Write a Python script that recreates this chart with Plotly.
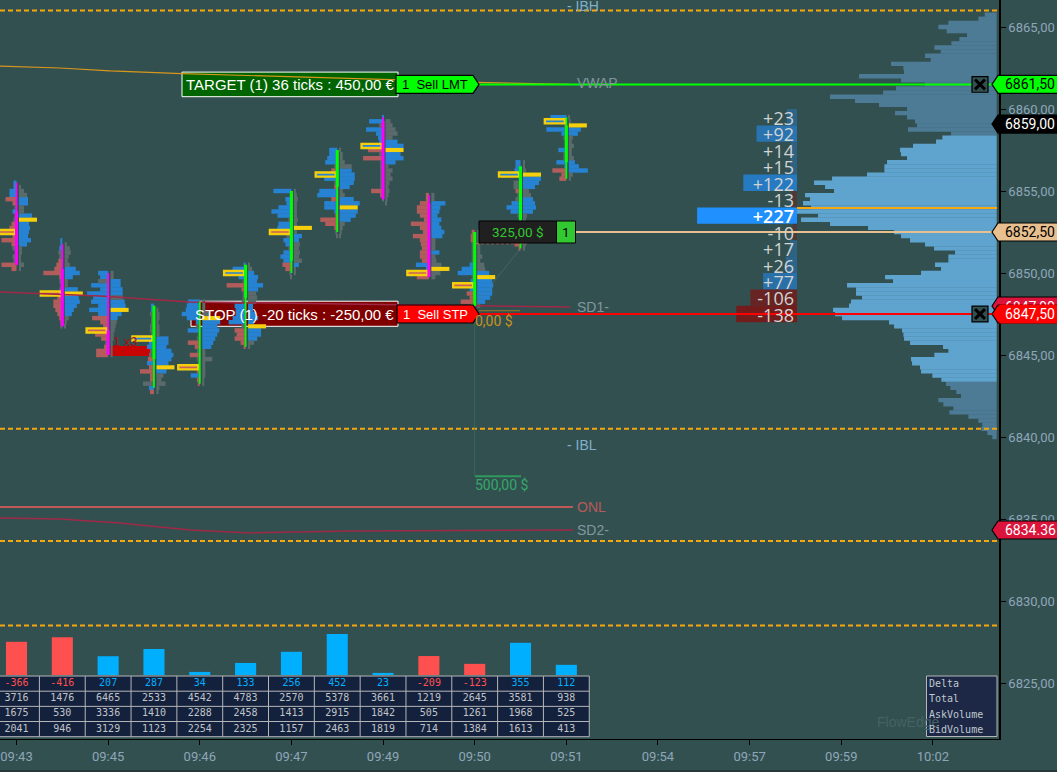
import plotly.graph_objects as go

# bar times on the x axis (every second bar is labelled)
tick_bars = [0, 2, 4, 6, 8, 10, 12, 14, 16, 18, 20]
tick_times = ["09:43", "09:45", "09:46", "09:47", "09:49", "09:50", "09:51", "09:54", "09:57", "09:59", "10:02"]
price_ticks = [6825, 6830, 6835, 6840, 6845, 6850, 6855, 6860, 6865]

# footer table
delta = [-366, -416, 207, 287, 34, 133, 256, 452, 23, -209, -123, 355, 112]
total = [3716, 1476, 6465, 2533, 4542, 4783, 2570, 5378, 3661, 1219, 2645, 3581, 938]
ask_volume = [1675, 530, 3336, 1410, 2288, 2458, 1413, 2915, 1842, 505, 1261, 1968, 525]
bid_volume = [2041, 946, 3129, 1123, 2254, 2325, 1157, 2463, 1819, 714, 1384, 1613, 413]

# candles
high = [6855.5, 6851.75, 6850, 6848, 6848.25, 6850.5, 6855, 6857.5, 6859.5, 6854.75, 6852.5, 6856.5, 6859.5]
low = [6850.5, 6846.75, 6845, 6843, 6843.25, 6845.5, 6850, 6852.5, 6854.5, 6849.75, 6848, 6851.5, 6855.75]
body_top = [6853.75, 6850.25, 6846.5, 6848, 6848.25, 6850.5, 6855, 6857.5, 6859.25, 6854.25, 6852.5, 6856.5, 6859]
body_bottom = [6850.5, 6846.75, 6845, 6844.75, 6848.25, 6848.5, 6850.75, 6855.25, 6854.5, 6849.75, 6848, 6853.25, 6856.75]
candle_up = [0, 0, 0, 1, 1, 1, 1, 1, 0, 0, 1, 1, 1]

# per bar footprint, rows run down from profile_top in quarter points
profile_top = [6855.5, 6852, 6850, 6848, 6848.25, 6850.5, 6855, 6857.5, 6859.5, 6854.75, 6852.5, 6856.75, 6859.5]
profile_left = [
    [3,3,7,7,11,4,2,4,2,3,5,7,16,4,15,5,4,2,4,3,15,5],
    [2,2,3,4,3,4,6,8,19,3,3,2,3,3,5,9,9,7,5,3,2,2],
    [10,8,10,17,8,21,15,17,10,19,10,16,8,5,3,13,7,3,4,12,12],
    [3,3,4,3,3,4,4,3,2,5,7,4,5,6,7,5,14,4,4,11,5,4],
    [12,13,14,18,13,4,4,12,2,3,12,5,3,10,3,2,3,3,9,3,2],
    [2,13,4,7,3,19,4,3,3,4,11,10,10,13,17,4,11,9,11,5,2],
    [18,2,6,5,13,20,14,3,13,14,3,5,8,6,3,8,11,8,9,6,2,1],
    [8,8,10,12,3,6,3,13,3,3,18,20,6,13,13,3,2,17,12,3,2,1],
    [1,14,4,17,7,5,4,4,15,4,20,3,3,3,3,3,3,3,12,3,1,0],
    [3,3,9,12,12,9,5,18,9,6,16,9,8,7,9,9,7,13,3,3,12],
    [3,4,4,3,3,3,3,3,5,13,17,3,4,3,5,8,5,14,4],
    [5,5,6,3,2,7,7,5,3,5,9,14,10,3,2,3,2,3,3,3,6,2],
    [16,3,2,20,5,3,2,2,8,3,3,10,2,14,5,7],
]
profile_left_color = [
    "bbbbrrgbggrrrrrrggggrr",
    "bbbgg" + "rrrrrggg" + "grrrrrrrgg",
    "bbgbbbbbbbbrrrrrrgrrr",
    "bbggggggbbbggrbrrrrgbrr"[:22],
    "bbbbbbgbggrrgrggrrbrr",
    "bbbbgrrgggbbbbbgrrrrr",
    "bgbbbbbgbbrgbbgbbbrrgg",
    "bbbbgrbbgrbbrbbbrrrrgg",
    "bbgbbbbbrgrgggggggrrgg",
    "rrrrrrrrrrrrrrrrrbbgr",
    "rrrgggggbbbgbrbrrrr",
    "bbbbbgg" + "rggbbbgggggggrrr"[:15],
    "bgrbbggg" + "bggbbrrr",
]
profile_right = [
    [0,2,5,8,9,9,5,5,13,0,10,11,10,9,12,8,3,3,2,2,5,2],
    [0,2,5,6,4,3,5,11,15,8,3,3,13,0,14,15,12,9,7,4,2,1],
    [3,3,10,10,12,12,12,14,15,0,11,7,6,5,4,3,3,2,2,2,2],
    [0,2,3,3,2,3,3,3,12,12,10,15,17,15,12,0,10,7,5,9,3,2],
    [3,3,3,8,0,18,15,17,15,13,11,9,3,3,10,3,3,3,3,2,2],
    [1,4,6,10,9,15,10,8,9,8,5,5,7,10,6,0,13,13,9,6,2],
    [2,3,4,3,3,3,3,4,3,0,3,8,5,6,5,6,5,8,5,2,2,0],
    [1,3,3,5,12,12,15,15,14,10,3,5,14,20,0,18,16,11,5,3,2,1],
    [0,5,7,10,12,7,12,18,0,15,18,10,3,7,5,7,4,3,4,3,2,1],
    [3,3,14,9,8,6,10,8,10,13,11,4,4,4,8,4,5,10,0,9,4],
    [3,3,3,3,3,3,5,3,7,8,12,0,15,16,15,15,13,8,3],
    [2,2,3,0,18,16,12,6,8,10,12,13,10,4,3,3,2,3,4,5,3,2],
    [1,2,0,12,9,4,3,5,3,3,5,6,10,19,4,2],
]
profile_right_color = [
    "ggggbbggbbbbbbbbgggggg",
    "gggggggbbbggbgbbbbbggg",
    "ggbbbbgbbbbbggggggggg",
    "ggggggggbbbbbbbbbgggggg"[:22],
    "ggggbbbbbbbbggggggggg",
    "ggbbbbbgggbbbbbgbbbgg",
    "gggggggggbgbbgggggbggg",
    "gggggbbbbbggbbbbbbgggg"[:22],
    "ggggggbbbbbbggggggggggg"[:22],
    "ggbbbbbbbbbgggbgggbgg"[:21],
    "ggggggggggbbbbbbbbg",
    "gggbbbbggbbbbggggggggg",
    "gggbbggggggbbbgg",
]

# largest rows of each bar
poc_right = [6853.25, 6848.75, 6847.75, 6844.25, 6847.25, 6846.75, 6852.75, 6854, 6857.5, 6850.25, 6849.75, 6856, 6859]
poc_left = [6852.5, 6848.75, 6846.5, 6846, 6844.25, 6850, 6852.5, 6856, 6857.75, 6850, 6849.25, 6856, 6859.25]
poc_left_up = [0, 0, 0, 1, 0, 1, 0, 1, 1, 0, 0, 1, 1]

# session profile, from 6865.75 down in quarter points
session_top = 6865.75
session_volume = [
    36,55,145,175,150,89,112,136,187,168,215,198,317,280,278,413,287,215,302,341,
    500,425,353,269,305,269,245,239,266,137,163,182,251,290,287,269,329,337,337,389,
    494,548,515,488,575,560,581,557,599,536,587,500,386,
    308,287,260,215,188,125,145,145,185,167,227,335,311,449,422,422,404,437,443,491,
    485,464,323,308,284,280,278,260,161,145,187,257,254,230,227,193,166,152,139,121,
    107,175,160,130,142,85,55,43,46,28,13,
]
value_area_high = 6858.25
value_area_low = 6843.5

# delta ladder
ladder_price = [6859.5 - i for i in range(13)]
ladder_delta = [23, 92, 14, 15, 122, -13, 227, -10, 17, 26, 77, -106, -138]

# levels
dashed_levels = [6866, 6840.5, 6833.66, 6828.5]
vwap_bar = [-0.36, 0.95, 2.04, 3.61, 8.37, 10.07, 12.08]
vwap_price = [6862.62, 6862.5, 6862.32, 6862.16, 6861.77, 6861.62, 6861.5]
sd1_bar = [-0.36, 1.82, 3.79, 10.07, 12.08]
sd1_price = [6848.84, 6848.6, 6848.23, 6847.99, 6847.93]
sd2_bar = [-0.36, 0.95, 2.26, 3.79, 5.1, 7.28, 12.15]
sd2_price = [6835.06, 6835, 6834.76, 6834.33, 6834.15, 6834.27, 6834.33]
onl_price = 6835.73

BG = "#335050"
BAR_PX = 45.82
FIRST_PX = 16.5
PLOT_W = 999
PLOT_H = 739
BLUE = "#2683d4"
RED = "#b25c5c"
GREY = "#5b6a6b"
YELLOW = "#f6cf0c"
MONO = "DejaVu Sans Mono"
SANS = "Liberation Sans"
ROW_H = 0.27   # a bit over one tick so no seams show between rows


def bx(px):
    return (px - FIRST_PX) / BAR_PX


def py(px):
    return 6865 - (px - 27) / 16.4


fig = go.Figure()

# session volume profile
rows = [session_top - 0.25 * i for i in range(len(session_volume))]
edge = bx(996.7)
for inside, colr in [(False, "#4d7b96"), (True, "#5fa3cf")]:
    ys = [p for p in rows if (value_area_low <= p <= value_area_high) == inside]
    xs = [-v / 3 / BAR_PX for p, v in zip(rows, session_volume) if (value_area_low <= p <= value_area_high) == inside]
    fig.add_trace(go.Bar(x=xs, y=ys, base=edge, orientation="h", width=ROW_H, marker=dict(color=colr, line_width=0), hoverinfo="skip"))

# delta ladder
ladder_right = bx(797)
ladder_colors = []
for v in ladder_delta:
    if v > 0:
        ladder_colors.append("rgba(32,144,255,%.2f)" % (0.25 + 0.75 * v / 227))
    else:
        ladder_colors.append("rgba(130,15,15,%.2f)" % (0.3 + 0.5 * -v / 138))
fig.add_trace(go.Bar(x=[-abs(v) * 0.44 / BAR_PX for v in ladder_delta], y=ladder_price, base=ladder_right, orientation="h",
                     width=1, marker=dict(color=ladder_colors, line_width=0), hoverinfo="skip"))

# levels
for lvl in dashed_levels:
    fig.add_trace(go.Scatter(x=[bx(0), bx(997)], y=[lvl, lvl], mode="lines", line=dict(color="#f5a70f", width=2, dash="5px,3px"), hoverinfo="skip"))
fig.add_trace(go.Scatter(x=vwap_bar, y=vwap_price, mode="lines", line=dict(color="#d8961c", width=1.2), hoverinfo="skip"))
fig.add_trace(go.Scatter(x=sd1_bar, y=sd1_price, mode="lines", line=dict(color="#a02848", width=1.5), hoverinfo="skip"))
fig.add_trace(go.Scatter(x=sd2_bar, y=sd2_price, mode="lines", line=dict(color="#a02848", width=1.5), hoverinfo="skip"))
fig.add_trace(go.Scatter(x=[bx(0), bx(573)], y=[onl_price, onl_price], mode="lines", line=dict(color="#c05858", width=2), hoverinfo="skip"))
fig.add_trace(go.Scatter(x=[bx(797), bx(997)], y=[6853.96, 6853.96], mode="lines", line=dict(color="#f5a70f", width=2), hoverinfo="skip"))
fig.add_trace(go.Scatter(x=[bx(556), bx(997)], y=[6852.5, 6852.5], mode="lines", line=dict(color="#e8bf8e", width=2), hoverinfo="skip"))
fig.add_trace(go.Scatter(x=[bx(478), bx(997)], y=[6861.5, 6861.5], mode="lines", line=dict(color="#00ff00", width=2), hoverinfo="skip"))
fig.add_trace(go.Scatter(x=[bx(478), bx(997)], y=[6847.5, 6847.5], mode="lines", line=dict(color="#ff0000", width=2), hoverinfo="skip"))

# open trade lines
fig.add_trace(go.Scatter(x=[10, 10], y=[6852, 6837.6], mode="lines", line=dict(color="rgba(50,125,90,0.6)", width=1), hoverinfo="skip"))
fig.add_trace(go.Scatter(x=[11, 10], y=[6851.5, 6848], mode="lines", line=dict(color="rgba(90,125,125,0.45)", width=1), hoverinfo="skip"))
fig.add_trace(go.Scatter(x=[bx(476), bx(527)], y=[6851.8, 6851.8], mode="lines", line=dict(color="#b25c5c", width=1.5, dash="3px,2px"), hoverinfo="skip"))
fig.add_trace(go.Scatter(x=[bx(479), bx(520)], y=[6847.7, 6847.7], mode="lines", line=dict(color="#9a7a20", width=1), hoverinfo="skip"))
fig.add_trace(go.Scatter(x=[bx(475), bx(521)], y=[6837.6, 6837.6], mode="lines", line=dict(color="#2e9a5c", width=2), hoverinfo="skip"))

# footprint bars
sides = {"b": BLUE, "r": RED, "g": GREY}
for key, colr in sides.items():
    lx, ly, lb, rx, ry, rb = [], [], [], [], [], []
    for i in range(13):
        for j, (v, c) in enumerate(zip(profile_left[i], profile_left_color[i])):
            if c == key and v:
                lx.append(-v / BAR_PX)
                ly.append(profile_top[i] - 0.25 * j)
                lb.append(i)
        for j, (v, c) in enumerate(zip(profile_right[i], profile_right_color[i])):
            if c == key and v:
                rx.append(v / BAR_PX)
                ry.append(profile_top[i] - 0.25 * j)
                rb.append(i + 2.5 / BAR_PX)
    fig.add_trace(go.Bar(x=lx, y=ly, base=lb, orientation="h", width=ROW_H, marker=dict(color=colr, line_width=0), hoverinfo="skip"))
    fig.add_trace(go.Bar(x=rx, y=ry, base=rb, orientation="h", width=ROW_H, marker=dict(color=colr, line_width=0), hoverinfo="skip"))

# poc markers
fig.add_trace(go.Bar(x=[18 / BAR_PX] * 13, y=poc_right, base=[i + 2.5 / BAR_PX for i in range(13)], orientation="h", width=0.25,
                     marker=dict(color=YELLOW, line_width=0), hoverinfo="skip"))
fig.add_trace(go.Bar(x=[-20 / BAR_PX] * 13, y=poc_left, base=[i - 1.5 / BAR_PX for i in range(13)], orientation="h", width=0.25,
                     marker=dict(color=[BLUE if u else "#c8605a" for u in poc_left_up], line=dict(color=YELLOW, width=2.4)), hoverinfo="skip"))

# candles
for up, colr in [(0, "#ff00ff"), (1, "#00ff00")]:
    wx, wy, bxs, bys = [], [], [], []
    for i in range(13):
        if candle_up[i] != up:
            continue
        wx += [i, i, None]
        wy += [high[i], low[i], None]
        bxs += [i, i, None]
        bys += [body_top[i], body_bottom[i], None]
    fig.add_trace(go.Scatter(x=wx, y=wy, mode="lines", line=dict(color=colr, width=1.8), hoverinfo="skip"))
    fig.add_trace(go.Scatter(x=bxs, y=bys, mode="lines", line=dict(color=colr, width=3), hoverinfo="skip"))

# delta bars on their own hidden axis
fig.add_trace(go.Bar(x=list(range(13)), y=[abs(v) for v in delta], width=0.46, yaxis="y2",
                     marker=dict(color=["#00b0ff" if v > 0 else "#ff5050" for v in delta], line_width=0), hoverinfo="skip"))

# table on a third hidden axis, rows sit on integers
grid_x, grid_y = [], []
for r in range(5):
    grid_x += [-0.6, 12.5, None]
    grid_y += [r - 0.5, r - 0.5, None]
for c in range(14):
    grid_x += [c - 0.5, c - 0.5, None]
    grid_y += [-0.5, 3.5, None]
fig.add_trace(go.Scatter(x=[-0.6, 12.5, 12.5, -0.6, -0.6], y=[-0.5, -0.5, 3.5, 3.5, -0.5], yaxis="y3", mode="lines", fill="toself",
                         fillcolor="#14213d", line_width=0, hoverinfo="skip"))
fig.add_trace(go.Scatter(x=grid_x, y=grid_y, yaxis="y3", mode="lines", line=dict(color="#b4b6b8", width=1), hoverinfo="skip"))
fig.add_trace(go.Scatter(x=list(range(13)), y=[0] * 13, yaxis="y3", mode="text", text=[str(v) for v in delta],
                         textfont=dict(family=MONO, size=10, color=["#00b0ff" if v > 0 else "#ff5050" for v in delta]), hoverinfo="skip"))
for r, vals in enumerate([total, ask_volume, bid_volume], start=1):
    fig.add_trace(go.Scatter(x=list(range(13)), y=[r] * 13, yaxis="y3", mode="text", text=[str(v) for v in vals],
                             textfont=dict(family=MONO, size=10, color="#c0c4c8"), hoverinfo="skip"))

# ladder text
fig.add_trace(go.Scatter(x=[ladder_right - 3 / BAR_PX] * 13, y=[p - 0.2 for p in ladder_price], mode="text", textposition="middle left",
                         text=["%+d" % v for v in ladder_delta],
                         textfont=dict(family="Open Sans", size=18, color=["#ffffff" if v == 227 else "#d2d4d4" for v in ladder_delta],
                                       weight=[600 if v == 227 else 400 for v in ladder_delta]), hoverinfo="skip"))

shapes = []
annos = []


def note(text, px, price, color, size=14, anchor="left", family=SANS, **kw):
    # annotations carry 2px of padding, take it off left aligned ones
    x = px - 2 if anchor == "left" else px
    annos.append(dict(text=text, x=x / PLOT_W, y=price, xref="paper", yref="y", xanchor=anchor, yanchor="middle", showarrow=False,
                      font=dict(family=family, size=size, color=color), **kw))


def rect(x0, x1, price0, price1, fill, line="#000000", lw=1, layer="above"):
    shapes.append(dict(type="rect", xref="paper", yref="y", x0=x0 / PLOT_W, x1=x1 / PLOT_W, y0=price0, y1=price1, fillcolor=fill,
                       line=dict(color=line, width=lw), layer=layer))


def poly(points, price, fill, line="#000000", lw=1.2):
    path = " ".join(("M" if k == 0 else "L") + " %.5f,%.3f" % (x / PLOT_W, price + d) for k, (x, d) in enumerate(points)) + " Z"
    shapes.append(dict(type="path", xref="paper", yref="y", path=path, fillcolor=fill, line=dict(color=line, width=lw), layer="above"))


def price_tag(price, fill, text, color, text_price=None):
    poly([(992, 0), (998, 0.55), (1058, 0.55), (1058, -0.55), (998, -0.55)], price, fill)
    note(text, 1030, price if text_price is None else text_price, color, 14, "center", "Roboto")


# order labels
rect(182, 398, 6861.5 + 0.75, 6861.5 - 0.75, "#006400", "#ffffff", 1, "below")
note("TARGET (1) 36 ticks : 450,00 €", 186, 6861.5, "#ffffff", 15)
rect(191, 398, 6847.5 + 0.78, 6847.5 - 0.75, "#800000", "#ffffff", 1, "below")
note("STOP (1) -20 ticks : -250,00 €", 195, 6847.5, "#ffffff", 15)
poly([(396, 0.55), (473, 0.55), (479, 0), (473, -0.55), (396, -0.55)], 6861.5, "#00ff00")
note("1  Sell LMT", 402, 6861.5, "#000000", 13)
poly([(397, 0.55), (473, 0.55), (479, 0), (473, -0.55), (397, -0.55)], 6847.5, "#ff0000")
note("1  Sell STP", 403, 6847.5, "#ffffff", 13)

# pnl box
rect(479, 556.5, py(221), py(243), "#202020")
rect(556.5, 575.5, py(221), py(243), "#32c832")
note("325,00 $", 518, 6852.5, "#32c832", 13.5, "center", "Roboto")
note("1", 566, 6852.5, "#000000", 13.5, "center", "Roboto")
note("0,00 $", 475, py(321), "#c8921e", 14, family="Roboto")
note("500,00 $", 475, py(485), "#34a868", 14, family="Roboto")

# fill marker under the third bar
shapes.append(dict(type="rect", xref="paper", yref="y", x0=110 / PLOT_W, x1=153 / PLOT_W, y0=py(346), y1=py(356), fillcolor="#c80404",
                   line_width=0, layer="below"))
note("1 x3", 113, py(341), "#a81010", 13)

# level names
note("- IBH", 567, py(6), "#7fb0cc", 14)
note("VWAP", 577, py(83), "#82969e", 14)
note("SD1-", 577, py(307), "#82969e", 14)
note("- IBL", 567, py(445), "#7fb0cc", 14)
note("ONL", 577, py(507), "#b85a5a", 14)
note("SD2-", 577, py(530), "#82969e", 14)

# price tags and order cancel boxes
for price in [6861.5, 6847.5]:
    rect(972, 988, price + 0.48, price - 0.48, "#335050", "#000000", 1.2)
    for d in (1, -1):
        shapes.append(dict(type="line", xref="paper", yref="y", x0=975 / PLOT_W, x1=985 / PLOT_W, y0=price + d * 0.3, y1=price - d * 0.3,
                           line=dict(color="#000000", width=3), layer="above"))
price_tag(6861.5, "#00ff00", "6861,50", "#000000")
price_tag(py(124), "#000000", "6859,00", "#ffffff")
price_tag(6852.5, "#e8bf8e", "6852,50", "#000000")
poly([(992, 0), (998, 0.55), (1058, 0.55), (1058, -0.55), (998, -0.55)], py(306), "#dc143c")
note("6847,90", 1030, py(307), "#ffffff", 14, "center", "Roboto")
poly([(992, 0), (998, 0.55), (1058, 0.55), (1058, -0.55), (998, -0.55)], 6847.5, "#ff0000")
note("6847,50", 1001, 6847.5, "#ffffff", 14, "left", "Roboto", bgcolor="#ff0000", width=58, height=16, align="center")
price_tag(py(530), "#dc143c", "6834.36", "#ffffff")

# legend for the table rows
note("FlowEdge", 877, py(722), "#456262", 14)
rect(926.5, 997, py(676), py(736.5), "#1c2845", "#b4b6b8", 1)
for label, y_px in zip(["Delta", "Total", "AskVolume", "BidVolume"], [683.6, 698.8, 714, 729]):
    note(label, 929, py(y_px), "#c0c8d0", 10, family=MONO)

# bottom edge of the window
shapes.append(dict(type="line", xref="paper", yref="paper", x0=0, x1=1058 / PLOT_W, y0=-32 / PLOT_H, y1=-32 / PLOT_H,
                   line=dict(color="#1c2020", width=1), layer="above"))

fig.update_layout(
    width=1057, height=772,
    margin=dict(l=0, r=58, t=0, b=33),
    paper_bgcolor=BG, plot_bgcolor=BG,
    barmode="overlay", showlegend=False,
    shapes=shapes, annotations=annos,
    xaxis=dict(range=[bx(0), bx(PLOT_W)], tickvals=tick_bars, ticktext=tick_times, ticks="outside", ticklen=5, tickcolor="#000000",
               tickwidth=1, showgrid=False, zeroline=False, showline=True, linecolor="#000000", linewidth=1,
               tickfont=dict(family="Roboto", size=13, color="#8ea6b8")),
    yaxis=dict(range=[py(PLOT_H), py(0)], side="right", tickvals=price_ticks, ticktext=["%d,00" % p for p in price_ticks],
               ticks="outside", ticklen=5, tickcolor="#000000", tickwidth=1, showgrid=False, zeroline=False, showline=True,
               linecolor="#000000", linewidth=1.5, tickfont=dict(family="Roboto", size=13, color="#8ea6b8")),
    yaxis2=dict(range=[(675 - PLOT_H) / 0.0907, 675 / 0.0907], overlaying="y", visible=False),
    yaxis3=dict(range=[(PLOT_H - 683.6) / 15.17, -683.6 / 15.17], overlaying="y", visible=False),
)

fig.write_html("out.html", config=dict(displayModeBar=False),
               post_script="document.body.style.margin='0';document.body.style.overflow='hidden';")
